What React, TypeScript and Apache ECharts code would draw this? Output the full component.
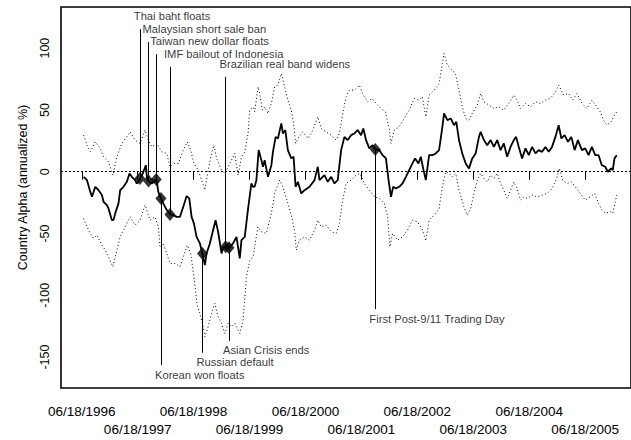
import React, { useEffect, useRef } from "react";
import * as echarts from "echarts";

// Country alpha (annualized %), sampled as [decimal year, value]
const alpha: [number, number][] = [
  [1996.494, -4.1], [1996.555, -6.8], [1996.613, -16.3], [1996.644, -20.3], [1996.703, -12.2],
  [1996.761, -14.9], [1996.822, -18.9], [1996.85, -24.3], [1996.911, -27], [1996.939, -29.7],
  [1997.0, -39.2], [1997.029, -39], [1997.059, -33.7], [1997.118, -25.6], [1997.148, -14.9],
  [1997.207, -12.2], [1997.267, -8.2], [1997.314, -1.4], [1997.356, -4.1], [1997.415, -6.8],
  [1997.445, -9.5], [1997.474, -8.2], [1997.504, -5.4], [1997.552, -1.4], [1997.606, 5.3],
  [1997.629, -5.4], [1997.654, -7.4], [1997.713, -9.5], [1997.798, -6.3], [1997.83, -16.3],
  [1997.878, -21.7], [1997.919, -25.6], [1997.98, -31], [1998.044, -34.6], [1998.098, -35.1],
  [1998.158, -36.5], [1998.217, -36.5], [1998.276, -28.4], [1998.336, -19.7], [1998.383, -21.6],
  [1998.425, -36.5], [1998.466, -41.8], [1998.514, -52.7], [1998.573, -58], [1998.618, -66.2],
  [1998.662, -75.6], [1998.692, -66.1], [1998.751, -58], [1998.81, -47.2], [1998.853, -39.2],
  [1998.899, -48.6], [1998.96, -66.1], [1998.988, -60.8], [1999.019, -60.8], [1999.095, -61.6],
  [1999.166, -58], [1999.227, -52.7], [1999.286, -70.1], [1999.316, -55.3], [1999.375, -52.7],
  [1999.434, -30], [1999.494, -9.5], [1999.523, -12.2], [1999.553, -12], [1999.583, -6.8],
  [1999.624, 17.5], [1999.672, 9.4], [1999.701, 4], [1999.731, 9.4], [1999.79, -4.1],
  [1999.851, 5.3], [1999.879, 16.1], [1999.927, 28.2], [1999.968, 26.9], [2000.029, 39.1],
  [2000.057, 31], [2000.1, 33.7], [2000.146, 17.5], [2000.207, 10.8], [2000.248, 12.1],
  [2000.284, -12.2], [2000.325, -8.2], [2000.385, -17.6], [2000.444, -14.9], [2000.533, -12.2],
  [2000.622, -6.8], [2000.681, 4], [2000.711, -6.8], [2000.8, -2.8], [2000.859, -8.2],
  [2000.92, -4.1], [2000.978, -9.5], [2001.037, -6.8], [2001.098, 17.5], [2001.157, 28.2],
  [2001.215, 25.6], [2001.276, 29.6], [2001.335, 31], [2001.393, 33.7], [2001.454, 29.6],
  [2001.495, 35], [2001.543, 25.6], [2001.602, 18.9], [2001.661, 21.5], [2001.714, 18],
  [2001.78, 17.5], [2001.839, 13.4], [2001.899, 10.8], [2001.946, -6.8], [2001.989, -20.3],
  [2002.029, -12.2], [2002.077, -13.5], [2002.136, -12.2], [2002.195, -9.5], [2002.256, -4.1],
  [2002.314, 1.3], [2002.373, 6.7], [2002.421, 10.8], [2002.48, 6.7], [2002.523, 12.1],
  [2002.564, 2.7], [2002.612, -6.8], [2002.671, 13.4], [2002.73, 13.4], [2002.79, 14.8],
  [2002.849, 17.5], [2002.908, 36.3], [2002.938, 47.2], [2002.997, 41.7], [2003.057, 43.1],
  [2003.116, 37.7], [2003.157, 40.4], [2003.205, 25.6], [2003.264, 14.8], [2003.325, 6.7],
  [2003.383, 2.7], [2003.442, 10.8], [2003.503, 14.8], [2003.562, 28.2], [2003.592, 32.3],
  [2003.651, 25.6], [2003.71, 21.5], [2003.77, 25.6], [2003.829, 20.1], [2003.888, 25.6],
  [2003.948, 17.5], [2004.007, 22.9], [2004.066, 12.1], [2004.127, 20.1], [2004.185, 25.6],
  [2004.226, 28.2], [2004.274, 20.1], [2004.333, 10.8], [2004.394, 18.9], [2004.453, 13.4],
  [2004.512, 20.1], [2004.572, 14.8], [2004.631, 17.5], [2004.69, 16.1], [2004.75, 20.1],
  [2004.809, 16.1], [2004.868, 20.1], [2004.929, 28.2], [2004.987, 37.7], [2005.035, 26.9],
  [2005.094, 29.6], [2005.153, 24.2], [2005.213, 28.2], [2005.272, 17.5], [2005.331, 25.6],
  [2005.402, 17.5], [2005.462, 18.9], [2005.521, 13.4], [2005.58, 20.1], [2005.641, 13.4],
  [2005.7, 13.4], [2005.758, 5.3], [2005.819, 4], [2005.865, 0], [2005.926, 2.7],
  [2005.954, 1.3], [2005.985, 10.8], [2006.025, 13.4],
];

// Upper confidence band
const upperBand: [number, number][] = [
  [1996.494, 29.6], [1996.555, 21.5], [1996.613, 16.1], [1996.703, 24.2], [1996.792, 18.9],
  [1996.85, 12.1], [1996.939, 8], [1997.018, -2.8], [1997.089, 12.1], [1997.178, 22.9],
  [1997.267, 28.2], [1997.326, 32.3], [1997.415, 25.6], [1997.504, 22.9], [1997.593, 33.7],
  [1997.652, 25.6], [1997.713, 20.1], [1997.802, 22.9], [1997.891, 16.1], [1997.98, 14.8],
  [1998.039, 4], [1998.098, 6.7], [1998.187, 6.7], [1998.276, 17.5], [1998.347, 24.2],
  [1998.408, 17.5], [1998.466, 6.7], [1998.543, 1.3], [1998.603, -6.8], [1998.662, -14.9],
  [1998.721, 1.3], [1998.782, 14.8], [1998.823, 21.5], [1998.871, 10.8], [1998.96, 1.3],
  [1999.019, -1.4], [1999.077, 4], [1999.138, 9.4], [1999.197, 14.8], [1999.256, -2.8],
  [1999.316, 12.1], [1999.375, 16.1], [1999.434, 31], [1999.464, 49.8], [1999.523, 52.5],
  [1999.553, 48.5], [1999.612, 68.7], [1999.642, 63.3], [1999.69, 49.8], [1999.731, 52.5],
  [1999.79, 47.2], [1999.851, 55.3], [1999.909, 68.7], [1999.968, 70.1], [2000.029, 79.5],
  [2000.088, 68.7], [2000.146, 57.9], [2000.207, 49.8], [2000.248, 39.1], [2000.284, 22.9],
  [2000.342, 28.2], [2000.414, 32.3], [2000.503, 26.9], [2000.592, 33.7], [2000.681, 44.4],
  [2000.741, 35], [2000.83, 32.3], [2000.92, 29.6], [2001.009, 25.6], [2001.067, 31],
  [2001.126, 47.2], [2001.187, 60.6], [2001.245, 66], [2001.335, 66], [2001.424, 70.1],
  [2001.495, 62], [2001.572, 56.6], [2001.65, 59.3], [2001.721, 55.3], [2001.81, 51.2],
  [2001.887, 48.5], [2001.958, 35], [2001.989, 22.9], [2002.047, 33.7], [2002.136, 36.3],
  [2002.225, 43.1], [2002.314, 49.8], [2002.404, 59.3], [2002.493, 57.9], [2002.551, 60.6],
  [2002.612, 44.4], [2002.671, 62], [2002.76, 66], [2002.849, 71], [2002.908, 87.6],
  [2002.938, 95.7], [2002.997, 86.2], [2003.086, 82.2], [2003.147, 78.2], [2003.205, 66],
  [2003.264, 52.5], [2003.325, 43.1], [2003.383, 41.7], [2003.442, 47.2], [2003.532, 53.9],
  [2003.592, 63.3], [2003.651, 56.6], [2003.74, 53.9], [2003.829, 51.2], [2003.918, 52.5],
  [2004.007, 49.8], [2004.096, 55.3], [2004.185, 62], [2004.244, 57.9], [2004.305, 51.2],
  [2004.394, 55.3], [2004.483, 52.5], [2004.572, 56.6], [2004.661, 55.3], [2004.75, 57.9],
  [2004.839, 59.3], [2004.929, 64.6], [2004.987, 70.1], [2005.076, 62], [2005.165, 63.3],
  [2005.236, 57.9], [2005.313, 63.3], [2005.402, 55.3], [2005.491, 51.2], [2005.58, 57.9],
  [2005.669, 52.5], [2005.73, 48.5], [2005.789, 41.7], [2005.848, 37.7], [2005.926, 40.4],
  [2005.967, 44.4], [2006.025, 48.5],
];

// Lower confidence band
const lowerBand: [number, number][] = [
  [1996.494, -37.8], [1996.555, -44.6], [1996.613, -49.9], [1996.672, -54], [1996.733, -51.3],
  [1996.822, -59.4], [1996.881, -63.4], [1996.939, -68.9], [1997.018, -76.9], [1997.089, -63.4],
  [1997.148, -52.7], [1997.237, -44.6], [1997.326, -36.5], [1997.415, -43.2], [1997.504, -39.2],
  [1997.593, -27], [1997.682, -39.2], [1997.771, -36.5], [1997.83, -44.6], [1997.861, -60.8],
  [1997.919, -58], [1997.98, -66.1], [1998.039, -74.2], [1998.128, -74.2], [1998.217, -76.9],
  [1998.276, -68.9], [1998.347, -59.4], [1998.408, -66.1], [1998.466, -85], [1998.525, -107.9],
  [1998.573, -114.6], [1998.632, -125.5], [1998.662, -133.6], [1998.721, -125.5], [1998.782, -114.6],
  [1998.84, -106.6], [1998.899, -117.4], [1998.96, -122.7], [1999.019, -130.8], [1999.077, -122.7],
  [1999.138, -125.5], [1999.197, -122.7], [1999.286, -130.8], [1999.345, -120.1], [1999.405, -85],
  [1999.464, -72], [1999.523, -68.9], [1999.612, -44.6], [1999.672, -48.6], [1999.761, -49.9],
  [1999.851, -33.7], [1999.909, -17.6], [1999.999, -6.8], [2000.057, -12.2], [2000.146, -25.6],
  [2000.207, -35.1], [2000.266, -47.2], [2000.296, -63.4], [2000.355, -55.3], [2000.444, -52.7],
  [2000.533, -55.3], [2000.622, -47.2], [2000.681, -39.2], [2000.741, -44.6], [2000.83, -43.2],
  [2000.92, -48.6], [2001.009, -49.9], [2001.067, -41.8], [2001.126, -23], [2001.187, -9.5],
  [2001.276, -6.8], [2001.365, -2.8], [2001.436, -1.4], [2001.513, -9.5], [2001.602, -14.9],
  [2001.691, -20.3], [2001.78, -21.6], [2001.869, -25.6], [2001.928, -36.5], [2001.971, -60.8],
  [2002.017, -49.9], [2002.106, -55.3], [2002.195, -52.7], [2002.284, -47.2], [2002.373, -39.2],
  [2002.462, -40.5], [2002.551, -47], [2002.612, -56], [2002.671, -39.2], [2002.76, -35.1],
  [2002.849, -30], [2002.908, -12.2], [2002.968, 0], [2003.027, -1.4], [2003.086, -4.1],
  [2003.147, -1.4], [2003.205, -14.9], [2003.294, -28.4], [2003.353, -35.1], [2003.414, -29.7],
  [2003.473, -17.6], [2003.532, -6.8], [2003.592, -1.4], [2003.651, -5.4], [2003.71, -8.2],
  [2003.77, -2.8], [2003.829, -5.4], [2003.888, -1.4], [2003.948, -9.5], [2004.007, -14.9],
  [2004.066, -21.6], [2004.127, -14.9], [2004.185, -8.2], [2004.244, -13.5], [2004.305, -23],
  [2004.364, -20.3], [2004.422, -21.6], [2004.512, -18.9], [2004.601, -20.3], [2004.69, -18.9],
  [2004.779, -17.6], [2004.868, -13.5], [2004.939, -6.8], [2005.0, 2.7], [2005.058, -6.8],
  [2005.135, -9.5], [2005.213, -8.2], [2005.285, -12.2], [2005.374, -17.6], [2005.462, -23],
  [2005.552, -20.3], [2005.629, -17.6], [2005.7, -25.6], [2005.758, -31], [2005.83, -33.7],
  [2005.908, -32.3], [2005.954, -33.7], [2006.025, -18.9],
];

// Crisis events marked on the alpha line
const eventNames = [
  "Thai baht floats",
  "Malaysian short sale ban",
  "Taiwan new dollar floats",
  "Korean won floats",
  "IMF bailout of Indonesia",
  "Russian default",
  "Brazilian real band widens",
  "Asian Crisis ends",
  "First Post-9/11 Trading Day",
];
const eventDates = [
  "1997-07-02", "1997-08-28", "1997-10-17", "1997-11-17", "1998-01-15",
  "1998-08-15", "1999-01-13", "1999-02-04", "2001-09-17",
];
const eventAlpha = [-5.4, -7.4, -6.3, -21.7, -34.6, -66.2, -60.8, -61.6, 18];
// where each callout line stops, in alpha units
const calloutEnds = [115.4, 104.9, 95.1, -156.5, 84.9, -146.5, 76.8, -136.8, -111.2];

const tickYears = [1996, 1997, 1998, 1999, 2000, 2001, 2002, 2003, 2004, 2005];
const yTickValues = [-150, -100, -50, 0, 50, 100];

const FONT = "'Liberation Sans', Arial, Helvetica, sans-serif";

function toYear(iso: string): number {
  const [y, m, d] = iso.split("-").map(Number);
  const start = Date.UTC(y, 0, 1);
  const end = Date.UTC(y + 1, 0, 1);
  return y + (Date.UTC(y, m - 1, d) - start) / (end - start);
}

const X_MIN = 1996.09;
const X_MAX = 2006.28;

export default function App() {
  const ref = useRef<HTMLDivElement>(null);

  useEffect(() => {
    if (!ref.current) return;
    const chart = echarts.init(ref.current, undefined, { renderer: "svg" });

    const tickValues = tickYears.map((y) => toYear(`${y}-06-18`));
    // dates alternate between two label rows
    const upperRow = tickValues.filter((_, i) => i % 2 === 0);
    const lowerRow = tickValues.filter((_, i) => i % 2 === 1);
    const dateLabel = (v: number) => `06/18/${Math.floor(v)}`;
    const xLabelStyle = {
      formatter: dateLabel,
      showMinLabel: true,
      showMaxLabel: true,
      hideOverlap: false,
      fontSize: 13.5,
      lineHeight: 17.5,
      color: "#000",
      fontFamily: FONT,
    };

    const eventX = eventDates.map(toYear);

    const option: any = {
      animation: false,
      backgroundColor: "#fff",
      grid: {
        left: 61,
        right: -2,
        top: 7,
        bottom: 52,
        show: true,
        borderColor: "#000",
        borderWidth: 1.6,
        backgroundColor: "transparent",
      },
      xAxis: [
        {
          type: "value",
          position: "bottom",
          min: X_MIN,
          max: X_MAX,
          axisLine: { show: false },
          splitLine: { show: false },
          axisTick: {
            show: true,
            customValues: tickValues,
            length: 8,
            lineStyle: { color: "#000", width: 1 },
          },
          axisLabel: { ...xLabelStyle, customValues: upperRow, margin: 15 },
        },
        {
          type: "value",
          position: "bottom",
          min: X_MIN,
          max: X_MAX,
          axisLine: { show: false },
          splitLine: { show: false },
          axisTick: { show: false },
          axisLabel: { ...xLabelStyle, customValues: lowerRow, margin: 32.5 },
        },
      ],
      yAxis: {
        type: "value",
        min: -175,
        max: 133.3,
        splitLine: { show: false },
        axisTick: { show: false },
        axisLine: { show: false },
        axisLabel: {
          customValues: yTickValues,
          showMinLabel: true,
          showMaxLabel: true,
          rotate: 90,
          margin: 10,
          fontSize: 12.5,
          color: "#000",
          fontFamily: FONT,
        },
        name: "Country Alpha (annualized %)",
        nameLocation: "middle",
        nameGap: 32,
        nameTextStyle: {
          fontSize: 12.5,
          color: "#000",
          fontFamily: FONT,
          padding: [0, 0, 0, 20],
        },
      },
      series: [
        {
          name: "upper",
          type: "line",
          data: upperBand,
          symbol: "none",
          silent: true,
          lineStyle: { color: "#000", width: 1, type: [1, 2.5] },
        },
        {
          name: "lower",
          type: "line",
          data: lowerBand,
          symbol: "none",
          silent: true,
          lineStyle: { color: "#000", width: 1, type: [1, 2.5] },
        },
        {
          name: "alpha",
          type: "line",
          data: alpha,
          symbol: "none",
          silent: true,
          lineStyle: { color: "#000", width: 1.8 },
          markLine: {
            silent: true,
            symbol: ["none", "none"],
            label: { show: false },
            lineStyle: { color: "#000", width: 1, type: [2, 2] },
            data: [{ yAxis: 0 }],
          },
        },
        {
          name: "events",
          type: "scatter",
          silent: true,
          symbol: "diamond",
          symbolSize: [11, 13],
          itemStyle: { color: "#000" },
          data: eventX.map((x, i) => [x, eventAlpha[i]]),
          z: 4,
          markLine: {
            silent: true,
            symbol: ["none", "none"],
            label: { show: false },
            lineStyle: { color: "#000", width: 1, type: "solid" },
            data: eventX.map((x, i) => [
              { coord: [x, eventAlpha[i]] },
              { coord: [x, calloutEnds[i]] },
            ]),
          },
        },
        {
          name: "eventLabels",
          type: "scatter",
          silent: true,
          symbolSize: 0,
          data: eventX.map((x, i) => {
            const up = calloutEnds[i] > eventAlpha[i];
            return {
              name: eventNames[i],
              value: [x, calloutEnds[i]],
              label: { position: up ? "top" : "bottom", distance: up ? 6.5 : 3 },
            };
          }),
          label: {
            show: true,
            formatter: "{b}",
            align: "left",
            offset: [-6, 0],
            fontSize: 11.2,
            lineHeight: 13,
            color: "#000",
            fontFamily: FONT,
          },
        },
      ],
    };

    chart.setOption(option);
    return () => chart.dispose();
  }, []);

  return (
    <div
      ref={ref}
      style={{ position: "fixed", left: 0, top: 0, width: 631, height: 440, background: "#fff" }}
    />
  );
}
